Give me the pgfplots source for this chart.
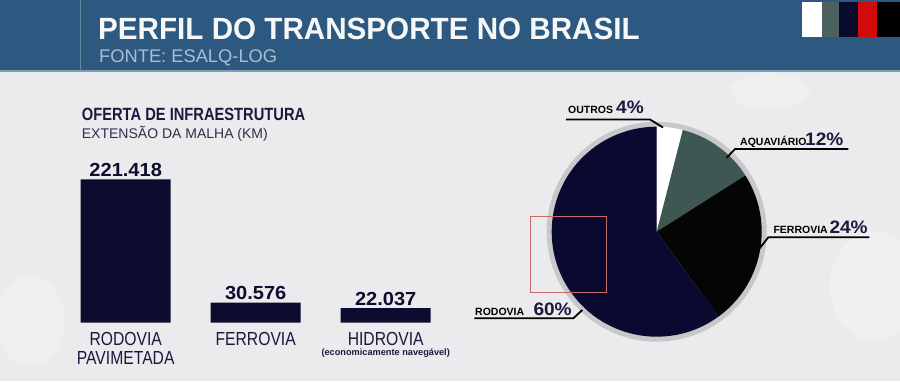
\documentclass[border=0pt]{standalone}
\usepackage{pgfplots}
\usepackage{pgfplotstable}
\pgfplotsset{compat=1.18}
\usepackage{fontspec}
\setmainfont{Liberation Sans}
\newfontfamily\ttl[FakeStretch=0.965]{Liberation Sans}
\newfontfamily\cnd[FakeStretch=0.83]{Liberation Sans}
\newfontfamily\wid[FakeStretch=1.06]{Liberation Sans}
\definecolor{hdr}{HTML}{2D5880}
\definecolor{bg}{HTML}{EBEBED}
\definecolor{barnavy}{HTML}{0C0C2E}
\definecolor{pieN}{HTML}{0A0A30}
\definecolor{pieK}{HTML}{050505}
\definecolor{pieG}{HTML}{3E5753}
\definecolor{pieW}{HTML}{FFFFFF}
\definecolor{ring}{HTML}{C8C8CA}
\definecolor{tnavy}{HTML}{1A1A40}
\definecolor{fonte}{HTML}{A9BFD2}
\definecolor{sqG}{HTML}{4D625E}
\definecolor{sqN}{HTML}{0A0A2C}
\definecolor{sqR}{HTML}{D20A0A}
\definecolor{focus}{HTML}{C86A6A}

\pgfplotstableread{
name value col
Outros 4 pieW
Aquaviario 12 pieG
Ferrovia 24 pieK
Rodovia 60 pieN
}\piedata

\begin{document}
\begin{tikzpicture}[x=1pt,y=1pt]
\clip (0,0) rectangle (900,381);
% background
\fill[bg] (0,0) rectangle (900,381);
\fill[white,opacity=0.25] (875,95) ellipse (45 and 55);
\fill[white,opacity=0.2] (770,290) ellipse (40 and 18);
\fill[white,opacity=0.2] (30,60) ellipse (35 and 45);
% header
\fill[hdr] (0,310) rectangle (900,381);
\draw[color=hdr!60!white, line width=1.5pt] (0,310) -- (900,310);
\draw[color=hdr!60!white, line width=0.6pt, opacity=0.7] (80,310) -- (80,381);
% colour squares
\fill[white] (801.7,343.7) rectangle (821.7,379.3);
\fill[sqG] (821.7,343.7) rectangle (839.3,379.3);
\fill[sqN] (839.3,343.7) rectangle (858.3,379.3);
\fill[sqR] (858.3,343.7) rectangle (877.3,379.3);
\fill[black] (877.3,343.7) rectangle (900,379.3);
% titles
\node[anchor=base west, inner sep=0pt, text=white!95!hdr] at (98,341.7)
  {\ttl\bfseries\fontsize{30.7}{32}\selectfont PERFIL DO TRANSPORTE NO BRASIL};
\node[anchor=base west, inner sep=0pt, text=fonte] at (99,318.3)
  {\fontsize{18.3}{20}\selectfont FONTE: ESALQ-LOG};
\node[anchor=base west, inner sep=0pt, text=tnavy] at (81.7,260.3)
  {\cnd\bfseries\fontsize{17.7}{19}\selectfont OFERTA DE INFRAESTRUTURA};
\node[anchor=base west, inner sep=0pt, text=tnavy!80!gray] at (81.7,242)
  {\fontsize{14}{16}\selectfont EXTENSÃO DA MALHA (KM)};

% bar chart
\begin{axis}[at={(125.7pt,58.5pt)}, anchor=origin,
  scale only axis, width=390pt, height=160pt,
  xmin=-0.5, xmax=2.5, ymin=0, ymax=247393,
  ybar, bar width=90pt, bar shift=0pt,
  axis line style={draw=none}, major tick length=0pt,
  ytick=\empty, xtick=data,
  xticklabels={{RODOVIA\\PAVIMETADA},{FERROVIA},{HIDROVIA}},
  xticklabel style={align=center, anchor=north, inner sep=0pt, yshift=-9.2pt,
    font=\cnd\fontsize{18.9}{19.3}\selectfont, text=tnavy},
  nodes near coords, point meta=explicit symbolic,
  every node near coord/.append style={anchor=south, inner sep=0pt, yshift=2.5pt,
    font=\wid\bfseries\fontsize{18.9}{20}\selectfont, text=barnavy},
  clip=false]
\addplot[fill=barnavy, draw=none] coordinates {(0,221418) [221.418] (1,30576) [30.576] (2,22037) [22.037]};
\node[anchor=base, inner sep=0pt, text=tnavy] at (axis cs:2,0) [yshift=-32.5pt]
  {\bfseries\fontsize{9.2}{10}\selectfont (economicamente navegável)};
\end{axis}

% pie chart
\begin{axis}[at={(656.7pt,149.3pt)}, anchor=origin,
  x=1pt, y=1pt, xmin=-115, xmax=115, ymin=-115, ymax=115,
  hide axis, clip=false]
\fill[ring] (axis cs:0,0) circle[radius=110pt];
\pgfplotstablegetrowsof{\piedata}
\pgfmathtruncatemacro\nrows{\pgfplotsretval-1}
\def\cumangle{90}
\pgfplotsforeachungrouped \i in {0,...,\nrows}{%
  \pgfplotstablegetelem{\i}{value}\of\piedata \let\pv\pgfplotsretval
  \pgfplotstablegetelem{\i}{col}\of\piedata \let\pcol\pgfplotsretval
  \pgfmathsetmacro\endangle{\cumangle-3.6*\pv}%
  \edef\temp{\noexpand\fill[\pcol] (axis cs:0,0) -- ++(\cumangle:105pt) arc[start angle=\cumangle, end angle=\endangle, radius=105pt] -- cycle;}%
  \temp
  \let\cumangle\endangle
}
\end{axis}

% focus rectangle
\draw[focus, line width=0.6pt] (530,88.7) rectangle (606,165);

% pie labels and leaders
\begin{scope}[line width=1.8pt, black]
\draw (566,261.5) -- (650,261.5) -- (663,253.5);
\draw (848.3,232) -- (735,232) -- (726.7,223.3);
\draw (869.3,143.7) -- (768.3,143.7) -- (758.3,131);
\draw (474.3,62.7) -- (573.3,62.7) -- (582.3,71);
\end{scope}
\node[anchor=base west, inner sep=0pt] at (568,267.5)
  {\bfseries\fontsize{10.5}{12}\selectfont OUTROS};
\node[anchor=base west, inner sep=0pt, text=tnavy] at (616,267)
  {\wid\bfseries\fontsize{18}{20}\selectfont 4\%};
\node[anchor=base west, inner sep=0pt] at (740,235.5)
  {\bfseries\fontsize{10.5}{12}\selectfont AQUAVIÁRIO};
\node[anchor=base west, inner sep=0pt, text=tnavy] at (805,235.5)
  {\wid\bfseries\fontsize{18}{20}\selectfont 12\%};
\node[anchor=base west, inner sep=0pt] at (773.3,148)
  {\bfseries\fontsize{10.5}{12}\selectfont FERROVIA};
\node[anchor=base west, inner sep=0pt, text=tnavy] at (829.3,148)
  {\wid\bfseries\fontsize{18}{20}\selectfont 24\%};
\node[anchor=base west, inner sep=0pt] at (475,65.3)
  {\bfseries\fontsize{10.5}{12}\selectfont RODOVIA};
\node[anchor=base west, inner sep=0pt, text=tnavy] at (533.3,65.3)
  {\wid\bfseries\fontsize{18}{20}\selectfont 60\%};
\end{tikzpicture}
\end{document}
